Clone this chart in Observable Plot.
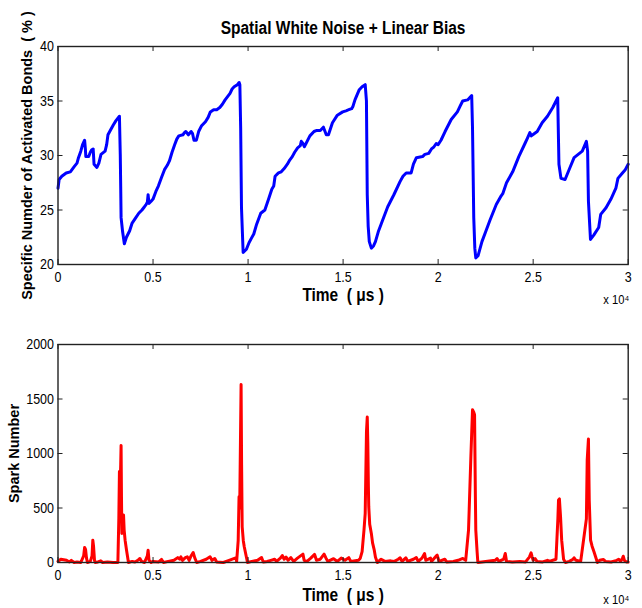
<!DOCTYPE html>
<html><head><meta charset="utf-8">
<script src="https://cdn.jsdelivr.net/npm/d3@7"></script>
<script src="https://cdn.jsdelivr.net/npm/@observablehq/plot@0.6"></script>
<style>
body{margin:0;background:#fff;}
#chart{width:642px;height:608px;}
svg{display:block;}
</style></head><body><div id="chart"></div>
<script>
const timeBonds = [0,60,200,431,650,862,1000,1078,1200,1293,1400,1440,1465,1616,1700,1767,1850,1896,2047,2150,2263,2478,2560,2629,2750,2909,3050,3232,3276,3300,3319,3400,3491,3600,3771,3900,4094,4250,4418,4550,4633,4700,4741,4784,4900,5000,5150,5280,5450,5603,5750,5862,6000,6142,6250,6357,6573,6650,6724,6860,7004,7080,7154,7280,7400,7543,7758,7900,8017,8189,8350,8512,8650,8792,9051,9160,9267,9439,9530,9568,9611,9654,9700,9741,9913,10050,10172,10300,10452,10667,10883,11000,11098,11249,11350,11422,11600,11745,11900,12068,12200,12327,12450,12607,12750,12800,12887,12960,13050,13253,13469,13620,13800,13964,14115,14230,14439,14698,14978,15150,15301,15450,15516,15624,15840,16000,16163,16228,16271,16320,16378,16486,16600,16701,16850,17024,17348,17671,17995,18150,18318,18580,18700,18856,19180,19300,19503,19650,19783,19900,19999,20150,20365,20688,21012,21150,21292,21550,21766,21809,21874,21930,21981,22100,22305,22520,22736,23059,23318,23400,23598,23921,24244,24568,24700,24826,24900,25050,25213,25472,25752,26032,26291,26356,26463,26679,26938,27153,27369,27584,27800,27865,27908,28016,28188,28447,28554,28834,29093,29352,29460,29697,29848,30000];
const bonds = [27.0,27.8,28.1,28.4,28.5,29.0,29.3,29.8,30.4,31.0,31.4,30.6,29.9,29.9,30.3,30.5,30.6,29.2,28.9,29.3,30.1,30.4,31.0,31.9,32.3,32.8,33.2,33.6,30.1,27.0,24.3,23.0,21.9,22.5,23.1,23.8,24.3,24.7,25.0,25.3,25.5,25.7,26.4,25.6,25.8,26.0,26.7,27.2,28.0,28.7,29.1,29.5,30.3,31.0,31.5,31.8,31.9,32.1,32.2,31.9,32.2,32.0,31.4,31.4,32.2,32.7,33.1,33.5,34.0,34.2,34.2,34.4,34.7,35.1,35.7,36.1,36.3,36.5,36.7,36.5,32.5,25.2,23.0,21.1,21.4,22.0,22.4,22.8,23.7,24.7,25.0,25.6,26.1,26.9,27.2,28.1,28.4,28.5,28.8,29.2,29.6,29.9,30.3,30.7,30.9,31.3,31.1,30.8,31.1,31.8,32.2,32.3,32.3,32.6,31.9,31.9,33.0,33.7,34.0,34.1,34.2,34.3,34.5,35.1,36.0,36.3,36.5,35.0,26.4,23.5,22.1,21.5,21.7,22.1,23.0,23.8,25.3,26.4,27.6,28.1,28.4,28.4,29.2,29.8,29.9,30.1,30.2,30.6,30.8,31.1,31.0,31.4,32.2,33.3,34.0,34.5,35.0,35.1,35.5,32.5,24.3,21.5,20.6,20.8,22.1,23.1,24.1,25.5,26.3,26.5,27.5,28.5,29.9,31.1,31.6,32.1,31.8,32.0,32.2,33.0,33.6,34.4,35.3,29.2,27.9,27.8,28.9,29.8,30.1,30.4,31.3,30.4,25.8,22.3,22.7,23.4,24.6,25.2,26.0,27.0,27.9,28.4,28.7,29.2];

const timeSpark = [0,150,300,450,600,700,850,1000,1200,1350,1400,1450,1500,1550,1700,1790,1832,1870,1920,1960,2100,2250,2350,2600,2900,3150,3200,3232,3270,3300,3319,3340,3360,3400,3448,3480,3530,3600,3707,3900,4050,4200,4310,4400,4550,4700,4741,4790,4900,5000,5300,5450,5550,5800,6100,6300,6400,6465,6550,6700,6800,6900,7000,7111,7200,7300,7500,7800,8000,8100,8250,8350,8700,9000,9350,9400,9480,9525,9560,9633,9660,9690,9750,9800,9900,9970,10200,10500,10710,10800,11000,11200,11400,11500,11700,11800,11900,12000,12100,12250,12400,12600,12887,12950,13100,13300,13500,13600,13800,14000,14100,14200,14500,14700,14900,15100,15300,15400,15800,15900,16000,16100,16163,16230,16271,16300,16330,16350,16400,16486,16550,16640,16700,16800,17000,17200,17500,17700,17900,18000,18100,18300,18400,18700,18850,18950,19150,19287,19350,19600,19650,19900,19950,20050,20350,20450,20800,21050,21300,21450,21600,21723,21809,21870,21917,21960,21981,22050,22090,22300,22500,23000,23100,23200,23450,23533,23600,23900,24300,24600,24800,24891,24950,25000,25100,25200,25500,25750,25850,26200,26300,26334,26380,26440,26500,26600,26700,26900,27100,27153,27250,27500,27800,27843,27908,27950,28020,28100,28200,28380,28500,28700,28800,29100,29400,29500,29600,29700,29740,29800,29900,30000];
const spark = [10,30,25,20,5,20,0,5,0,60,138,120,40,0,10,60,205,150,20,0,5,15,0,5,0,0,400,834,700,900,1073,600,267,350,435,300,205,120,0,10,5,20,37,10,0,60,113,20,0,10,5,28,0,10,20,45,30,52,20,45,52,20,60,92,40,0,10,30,52,20,37,5,0,20,43,10,200,604,500,1632,900,328,200,144,60,0,10,20,46,5,10,20,30,10,40,64,30,50,20,45,10,40,77,20,10,40,74,20,30,77,40,10,35,10,40,20,45,10,20,37,100,300,451,1200,1334,1100,700,512,350,267,180,113,50,0,30,10,15,10,30,43,10,43,10,30,46,10,40,83,20,40,10,60,67,10,30,5,10,20,37,20,300,972,1402,1380,1356,600,298,100,0,5,10,20,37,10,30,83,10,5,10,5,50,89,50,20,37,10,5,20,10,30,400,574,583,420,205,30,0,10,30,43,20,10,400,942,1132,574,205,150,98,0,20,28,10,5,20,30,10,40,58,20,5,5];

const xTicks = [0,5000,10000,15000,20000,25000,30000];
const bondTicks = [20,25,30,35,40];
const sparkTicks = [0,500,1000,1500,2000];
const title = "Spatial White Noise + Linear Bias";
const xLabel = "Time  ( μs )";
const xExponent = "x 10⁴";
const bondsLabel = "Specific Numder of Activated Bonds  ( % )";
const sparkLabel = "Spark Number";

const SANS = "'Liberation Sans',Arial,Helvetica,sans-serif";
const INNER_W = 570.2, INNER_H = 218, TICK = 5, AXIS = "#222";

function panel({t, v, color, yDomain, yTicks, height, marginTop, marginBottom, yLabel, yLabelDx, xLabelDy, expDy, withTitle}) {
  const data = t.map((d, i) => ({t: d, v: v[i]}));
  const marks = [
    Plot.line(data, {x: "t", y: "v", stroke: color, strokeWidth: 3, strokeLinejoin: "round"}),
    Plot.frame({stroke: AXIS, strokeWidth: 1.4}),
    Plot.ruleX(xTicks, {x: d => d, insetTop: INNER_H - TICK, stroke: AXIS}),
    Plot.ruleX(xTicks, {x: d => d, insetBottom: INNER_H - TICK, stroke: AXIS}),
    Plot.ruleY(yTicks, {y: d => d, insetRight: INNER_W - TICK, stroke: AXIS}),
    Plot.ruleY(yTicks, {y: d => d, insetLeft: INNER_W - TICK, stroke: AXIS}),
    Plot.axisX(xTicks, {tickSize: 0, tickPadding: 7, tickFormat: d => String(d / 1e4), fontSize: 14.5, fontFamily: SANS, label: null}),
    Plot.axisY(yTicks, {tickSize: 0, tickPadding: 4, tickFormat: d => String(d), fontSize: 14.5, fontFamily: SANS, label: null}),
    Plot.text([xLabel], {frameAnchor: "bottom", lineAnchor: "middle", dy: xLabelDy, fontWeight: "bold", fontSize: 18, fontFamily: SANS, fill: "#000"}),
    Plot.text([xExponent], {frameAnchor: "bottom-right", lineAnchor: "middle", textAnchor: "end", dx: 1, dy: expDy, fontSize: 13, fontFamily: SANS, fill: "#000"}),
    Plot.text([yLabel], {frameAnchor: "left", lineAnchor: "middle", textAnchor: "middle", rotate: -90, dx: yLabelDx, fontWeight: "bold", fontSize: 14.5, fontFamily: SANS, fill: "#000"})
  ];
  if (withTitle) marks.push(Plot.text([title], {frameAnchor: "top", lineAnchor: "middle", textAnchor: "middle", dy: -18, fontWeight: "bold", fontSize: 18, fontFamily: SANS, fill: "#000"}));
  return Plot.plot({
    width: 642, height, marginLeft: 57.5, marginRight: 14.3, marginTop, marginBottom,
    style: {fontFamily: SANS, fontSize: "14px", color: "#000", background: "#fff", overflow: "visible"},
    x: {domain: [0, 30000]},
    y: {domain: yDomain},
    marks
  });
}

// horizontal texts in the reference are condensed; squeeze them in place
function condense(svg, factor) {
  svg.querySelectorAll("text").forEach(el => {
    const tr = (el.getAttribute("transform") || "") + (el.parentNode.getAttribute("transform") || "");
    if (tr.includes("rotate")) return;
    const len = el.getComputedTextLength();
    if (len > 0) {
      el.setAttribute("textLength", (len * factor).toFixed(2));
      el.setAttribute("lengthAdjust", "spacingAndGlyphs");
    }
  });
}

const root = document.getElementById("chart");
const top1 = panel({t: timeBonds, v: bonds, color: "#0000ff", yDomain: [20, 40], yTicks: bondTicks, height: 320, marginTop: 46, marginBottom: 56, yLabel: bondsLabel, yLabelDx: -31, xLabelDy: 31, expDy: 35, withTitle: true});
const bot1 = panel({t: timeSpark, v: spark, color: "#ff0000", yDomain: [0, 2000], yTicks: sparkTicks, height: 288, marginTop: 24, marginBottom: 46, yLabel: sparkLabel, yLabelDx: -44, xLabelDy: 33, expDy: 37, withTitle: false});
root.append(top1);
root.append(bot1);
condense(top1, 0.86);
condense(bot1, 0.86);
</script></body></html>
